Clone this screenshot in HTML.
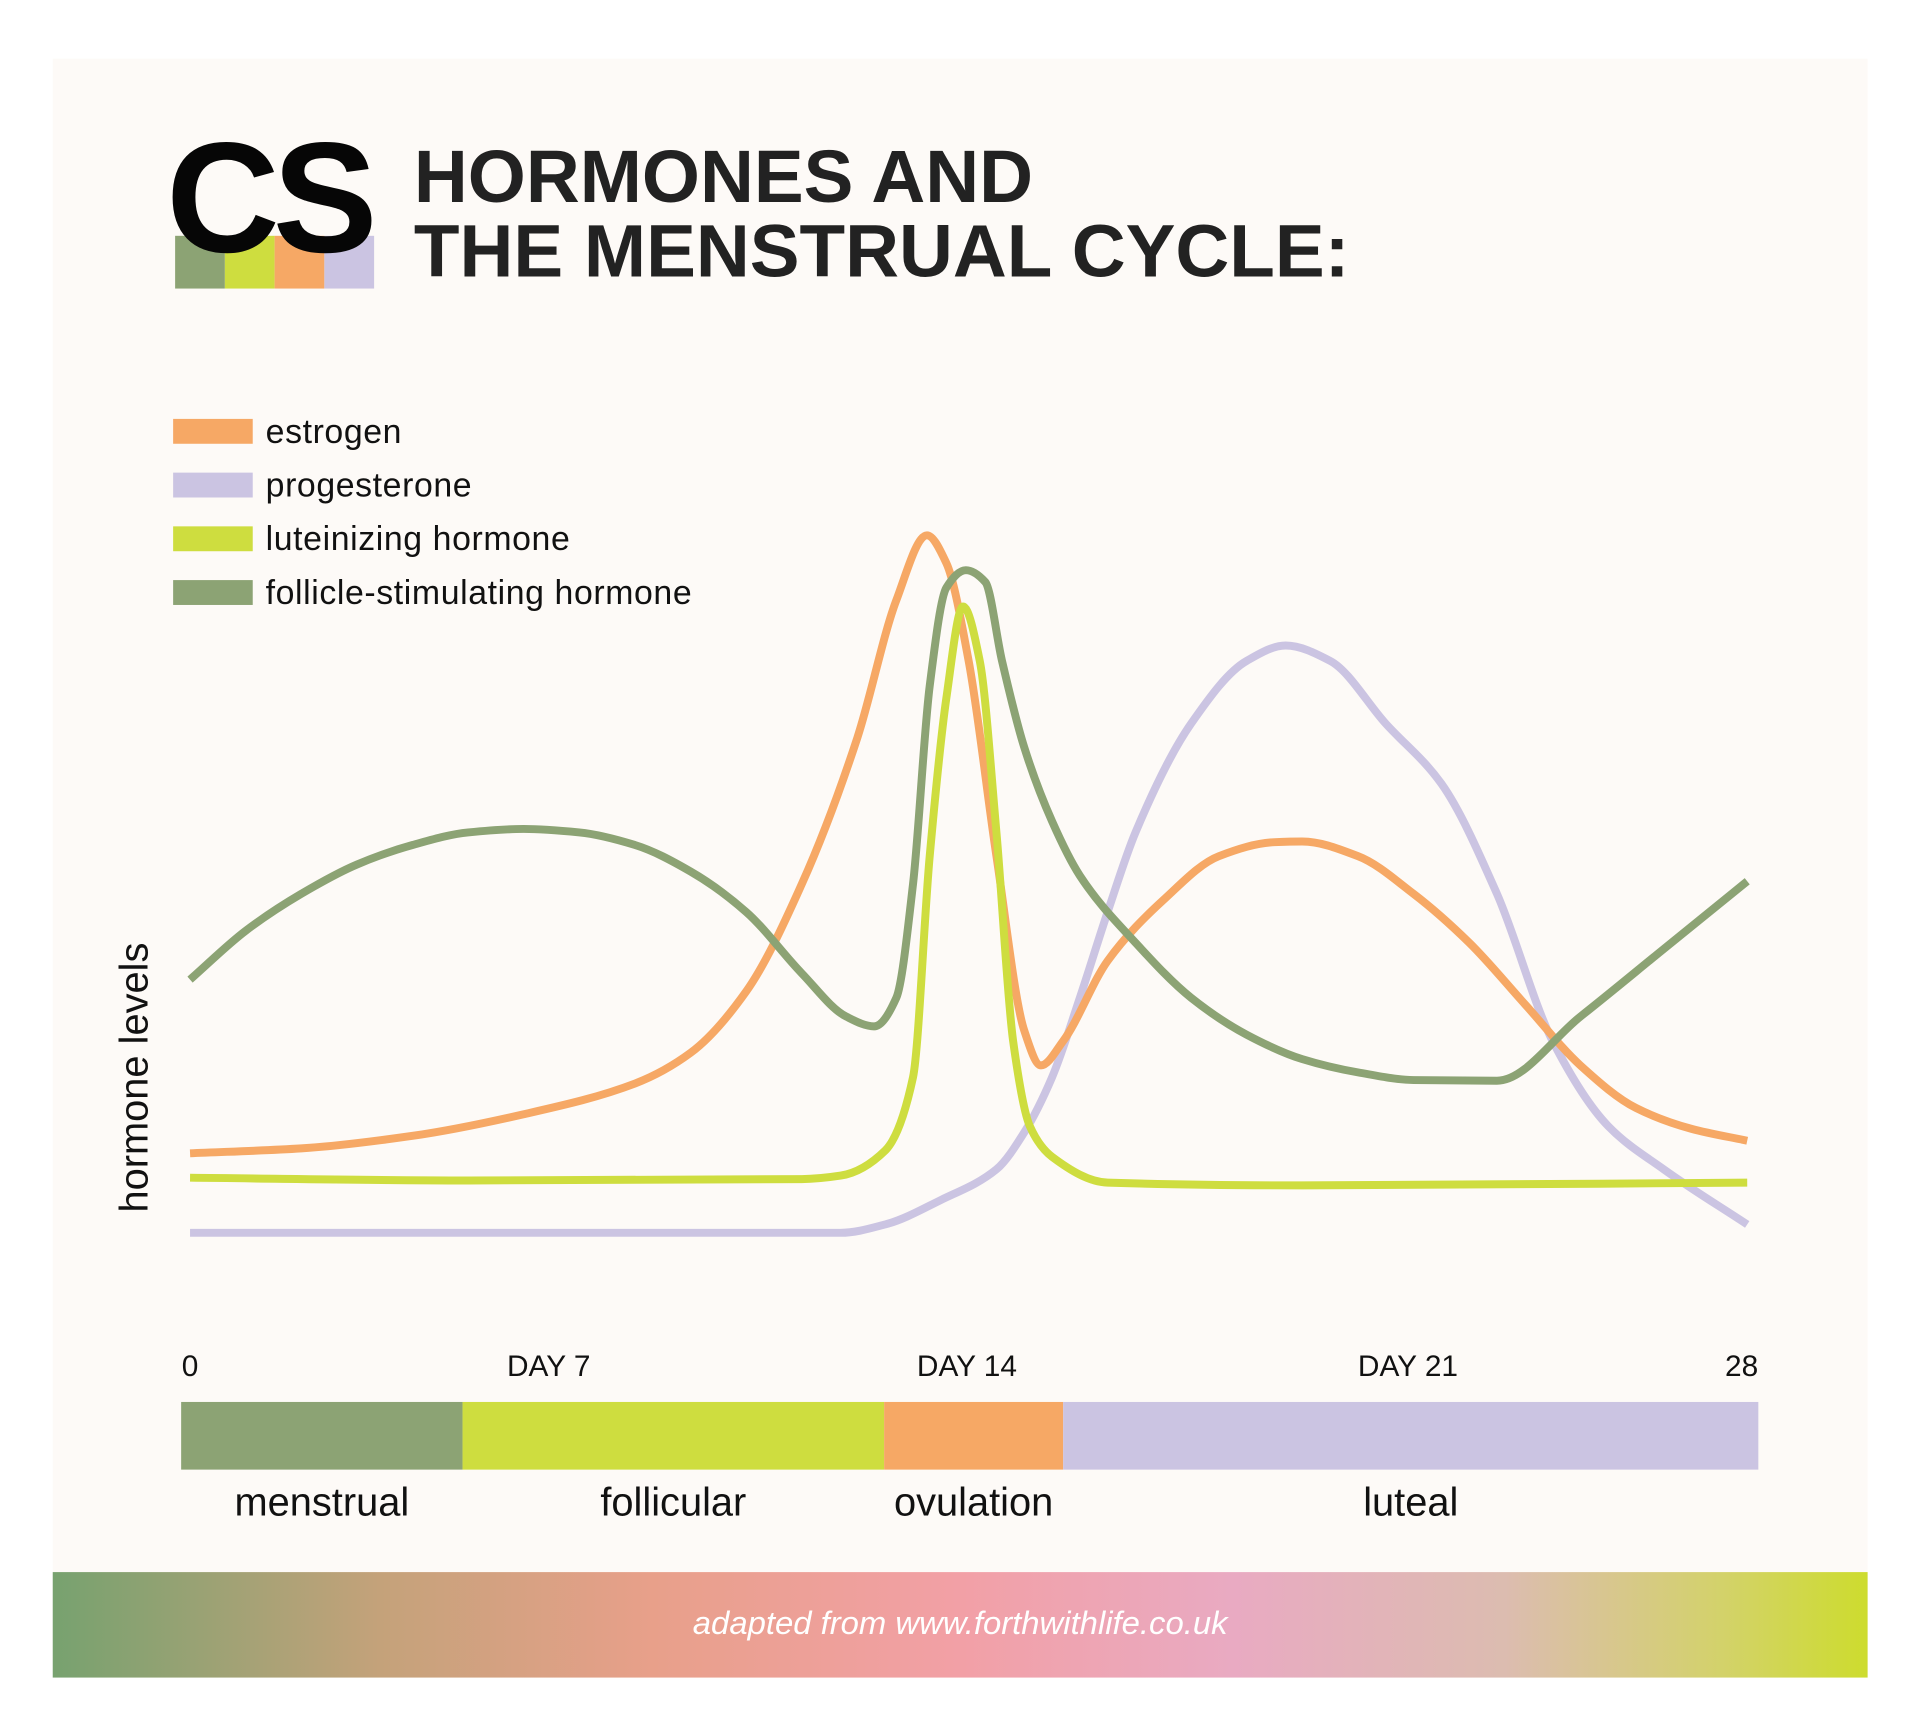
<!DOCTYPE html>
<html><head><meta charset="utf-8"><style>
body{margin:0;width:1920px;height:1733px;background:#fff;position:relative;overflow:hidden;font-family:"Liberation Sans",sans-serif}
#wrap{position:absolute;left:0;top:0;width:1920px;height:1733px;transform:scale(0.995);transform-origin:0 0}
.abs{position:absolute}
</style></head><body><div id="wrap">
<div class="abs" style="left:53px;top:59px;width:1824px;height:1627px;background:#fdfaf7"></div>
<div class="abs" style="left:176px;top:237px;width:200px;height:53px;display:flex">
<div style="flex:1;background:#8ca374"></div><div style="flex:1;background:#cedd3f"></div><div style="flex:1;background:#f6a865"></div><div style="flex:1;background:#cbc4e2"></div></div>
<div class="abs" style="left:167px;top:120px;font-size:158px;font-weight:bold;color:#060606;letter-spacing:-7px;line-height:1">CS</div>
<div class="abs" style="left:416px;top:140px;font-size:75px;font-weight:bold;color:#222;line-height:75px">HORMONES AND<br>THE MENSTRUAL CYCLE:</div>
<svg class="abs" style="left:0;top:0" width="1920" height="1733">
<g id="legend"></g>
<g id="lines"></g>
<text transform="translate(148,1083) rotate(-90)" text-anchor="middle" font-size="40" fill="#111" font-family="Liberation Sans, sans-serif">hormone levels</text>
<g id="ticks"></g>
<g id="phases"></g>
</svg>
<div class="abs" style="left:53px;top:1580px;width:1824px;height:106px;background:linear-gradient(90deg,#77a26f 0%,#c4a27a 18%,#e8a08a 33%,#f2a0a6 50%,#e9aac2 65%,#dcbcb0 80%,#d3d26a 92%,#cddc2e 100%)"></div>
<div class="abs" style="left:53px;width:1824px;top:1612px;text-align:center;color:#fff;font-style:italic;font-size:33px">adapted from www.forthwithlife.co.uk</div>
</div>
<script>
const seriesNames=["estrogen","progesterone","luteinizing hormone","follicle-stimulating hormone"];
const estrogenDays=[0,2,4,6,8,9,10,11,12,12.7,13.25,13.6,14,14.5,15,15.3,15.7,16.5,17.5,18.5,19.5,20,21,22,23,24,25,26,27,28];
const estrogenVals=[11.4,12.1,13.9,17,21.4,25.8,34.6,50,71,90.7,100,96,82,54,29,24,27.5,39,47.7,54,56,56.1,54,48.6,41.6,32.8,24,17.9,14.9,13.2];
const progDays=[0,6,11.7,12.5,13.5,14.5,15,15.5,16,16.5,17,18,19,19.7,20.5,21.5,22.5,23.5,24.5,25.5,26.5,28];
const progVals=[0,0,0,1.2,4.7,9.1,14.4,22.3,33.7,46,57.4,73,82,84.2,82,73,64.4,48.6,27.5,15.3,9.1,1.2];
const lhDays=[0,5,11,11.7,12.5,13,13.3,13.6,13.9,14.2,14.5,14.8,15.1,15.5,16.5,20,28];
const lhVals=[7.9,7.5,7.7,8.2,11.8,22.3,54,76.7,89.8,82,57.4,27.5,15.3,10.9,7.2,6.8,7.2];
const fshDays=[0,1,2,3,4,5,6,7,8,9,10,11,11.8,12.3,12.7,13,13.3,13.6,13.95,14.3,14.6,15,15.5,16,17,18,19,20,21,22,23.5,25,26.5,28];
const fshVals=[36.3,43.3,48.6,52.8,55.6,57.4,57.9,57.4,55.6,51.8,46,37.2,31,29.6,33.7,50,78.4,92.5,95,93.3,82,69.6,59,51.2,41.6,33.7,28.4,24.9,23,21.9,21.8,31,40.7,50.4];
const tickDays=[0,6.45,13.97,21.9,27.9];
const tickLabels=["0","DAY 7","DAY 14","DAY 21","28"];
const phaseNames=["menstrual","follicular","ovulation","luteal"];
const phaseStart=[-0.16,4.9,12.48,15.7];
const phaseEnd=[4.9,12.48,15.7,28.2];
const colors=["#f6a865","#cbc4e2","#cedd3f","#8ca374"];
const NS="http://www.w3.org/2000/svg";
const X0=191,X1=1756,Y0=1239,Y100=538;
const xs=d=>X0+(X1-X0)*d/28;
const ys=v=>Y0+(Y100-Y0)*v/100;
function mk(t,a,p){const e=document.createElementNS(NS,t);for(const k in a)e.setAttribute(k,a[k]);p.appendChild(e);return e;}
function path(P){const n=P.length;const dx=[],m=[];for(let i=0;i<n-1;i++){dx.push(P[i+1][0]-P[i][0]);m.push((P[i+1][1]-P[i][1])/dx[i]);}
const t=[m[0]];for(let i=1;i<n-1;i++){if(m[i-1]*m[i]<=0)t.push(0);else{const w1=2*dx[i]+dx[i-1],w2=dx[i]+2*dx[i-1];t.push((w1+w2)/(w1/m[i-1]+w2/m[i]));}}t.push(m[n-2]);
let d=`M${P[0][0]},${P[0][1]}`;for(let i=0;i<n-1;i++){const h=dx[i]/3;d+=` C${P[i][0]+h},${P[i][1]+t[i]*h} ${P[i+1][0]-h},${P[i+1][1]-t[i+1]*h} ${P[i+1][0]},${P[i+1][1]}`;}return d;}
const lines=document.getElementById('lines');
const all=[[estrogenDays,estrogenVals],[progDays,progVals],[lhDays,lhVals],[fshDays,fshVals]];
const order=[1,0,3,2];
order.forEach(i=>{const [D,V]=all[i];const p=mk('path',{d:path(D.map((d,j)=>[xs(d),ys(V[j])])),fill:'none',stroke:colors[i],'stroke-width':8,'stroke-linejoin':'round','stroke-linecap':'butt'},lines);

});
const lg=document.getElementById('legend');
seriesNames.forEach((n,i)=>{const y=421+i*54;
const r=mk('rect',{x:174,y:y,width:80,height:25,fill:colors[i]},lg);


const t=mk('text',{x:267,y:y+24,'font-size':34,'letter-spacing':0.6,fill:'#111','font-family':'Liberation Sans, sans-serif'},lg);t.textContent=n;

});
const tg=document.getElementById('ticks');
tickDays.forEach((d,i)=>{const t=mk('text',{x:xs(d),y:1383,'text-anchor':'middle','font-size':30,fill:'#111','font-family':'Liberation Sans, sans-serif'},tg);t.textContent=tickLabels[i];

});
const pg=document.getElementById('phases');
phaseNames.forEach((n,i)=>{const a=xs(phaseStart[i]),b=xs(phaseEnd[i]);
const r=mk('rect',{x:a,y:1409,width:b-a,height:68,fill:[colors[3],colors[2],colors[0],colors[1]][i]},pg);


const t=mk('text',{x:(a+b)/2,y:1523,'text-anchor':'middle','font-size':40,fill:'#111','font-family':'Liberation Sans, sans-serif'},pg);t.textContent=n;

});
</script>
</body></html>
